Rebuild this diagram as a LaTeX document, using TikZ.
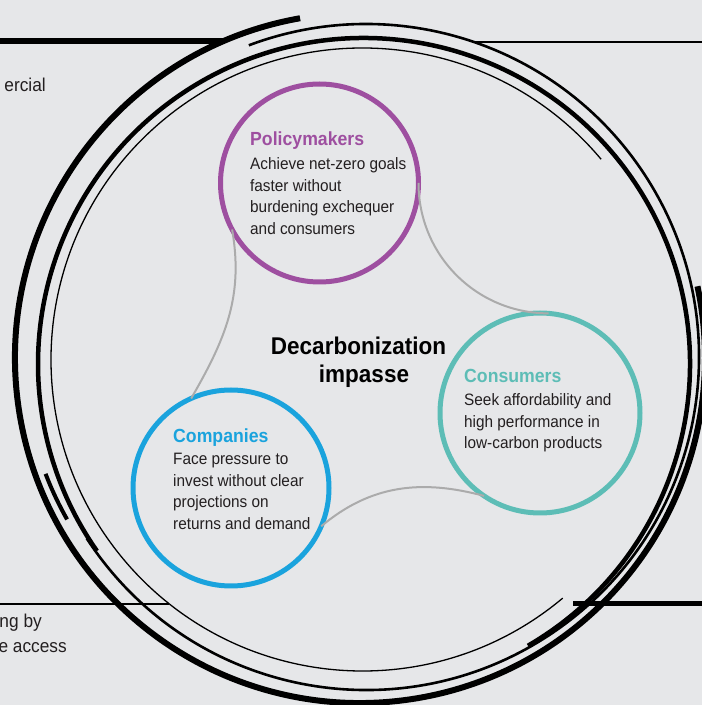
\documentclass[tikz,border=0pt]{standalone}
\usepackage{fontspec}
\setmainfont{Liberation Sans}[FakeStretch=0.93]
\definecolor{bgc}{HTML}{E6E7E9}
\definecolor{polc}{HTML}{9E4FA0}
\definecolor{conc}{HTML}{5DBDB6}
\definecolor{comc}{HTML}{1AA3DD}
\definecolor{linkc}{HTML}{ABABAB}
\definecolor{txtc}{HTML}{231F20}
\begin{document}
\begin{tikzpicture}[x=1pt,y=1pt,
  actor/.style={circle,draw=#1,line width=5pt,inner sep=0pt,outer sep=0pt},
  head/.style={anchor=base west,inner sep=0pt,font=\fontsize{19}{22}\selectfont\bfseries},
  body/.style={anchor=base west,inner sep=0pt,text=txtc,font=\fontsize{16.5}{21.5}\selectfont},
  side/.style={anchor=base east,inner sep=0pt,text=txtc,font=\fontsize{18.6}{24}\selectfont},
  title/.style={anchor=base,inner sep=0pt,text=black,font=\fontsize{24.2}{30}\selectfont\bfseries},
  link/.style={draw=linkc,line width=2pt},
  ring/.style={draw=black,line width=#1},
]
\useasboundingbox (0,0) rectangle (702,705);
\fill[bgc] (0,0) rectangle (702,705);

% rings
\draw[ring=6pt] (360,347) ++(100:345) arc[start angle=100,end angle=372,radius=345];
\draw[ring=2.6pt] (366,348) ++(213:333) arc[start angle=213,end angle=470.6,radius=333];
\draw[ring=4.5pt] (364,341) ++(-59.8:326) arc[start angle=-59.8,end angle=215,radius=326];
\draw[ring=1.3pt] (362.5,345.5) ++(40:311.5) arc[start angle=40,end angle=310,radius=311.5];
\draw[ring=4pt] (363,353) ++(201:340) arc[start angle=201,end angle=209.5,radius=340];

% horizontal rules
\coordinate (tl0) at (0,664);   \coordinate (tl1) at (225,664);
\coordinate (tr0) at (472,663.3); \coordinate (tr1) at (702,663.3);
\coordinate (bl0) at (0,101);   \coordinate (bl1) at (169,101);
\coordinate (br0) at (573,101.5); \coordinate (br1) at (702,101.5);
\draw[ring=6.5pt] (tl0) -- (tl1);
\draw[ring=1.8pt] (tr0) -- (tr1);
\draw[ring=1.5pt] (bl0) -- (bl1);
\draw[ring=5pt] (br0) -- (br1);

% actor circles
\node[actor=polc,minimum size=198pt] (pol) at (319.5,522) {};
\node[actor=conc,minimum size=200pt] (con) at (540,292) {};
\node[actor=comc,minimum size=196pt] (com) at (231,217) {};

% links
\draw[link] (pol.0) to[out=-90,in=180] (con.85);
\draw[link] (pol.208) to[out=-80,in=60] (com.114);
\draw[link] (com.-23) to[out=40,in=165] (con.236);

% texts
\node[head,text=polc] (polh) at (250,559) {Policymakers};
\node[body] (pol1) at (250,535) {Achieve net-zero goals};
\node[body] (pol2) at (250,513.5) {faster without};
\node[body] (pol3) at (250,492) {burdening exchequer};
\node[body] (pol4) at (250,470.5) {and consumers};

\node[head,text=conc] (conh) at (464,322) {Consumers};
\node[body] (con1) at (464,299) {Seek affordability and};
\node[body] (con2) at (464,277.5) {high performance in};
\node[body] (con3) at (464,256) {low-carbon products};

\node[head,text=comc] (comh) at (173,262) {Companies};
\node[body] (com1) at (173,240) {Face pressure to};
\node[body] (com2) at (173,218.5) {invest without clear};
\node[body] (com3) at (173,197) {projections on};
\node[body] (com4) at (173,175.5) {returns and demand};

\node[title] (t1) at (358.5,350) {Decarbonization};
\node[title] (t2) at (364,322) {impasse};

\node[side] (s1) at (46,613.3) {ercial};
\node[side] (s2) at (42,77) {ng by};
\node[side] (s3) at (67,52.3) {e access};
\end{tikzpicture}
\end{document}
